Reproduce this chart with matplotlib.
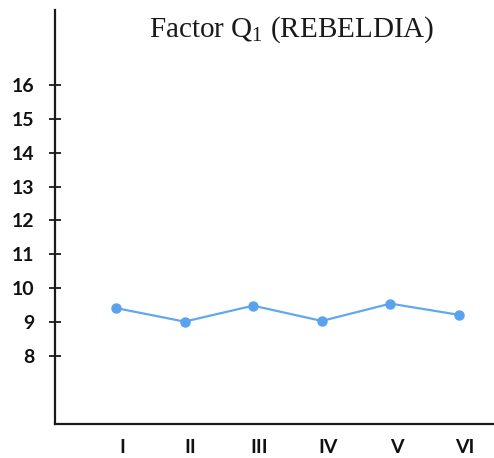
import matplotlib
matplotlib.use("Agg")
import matplotlib.pyplot as plt
import matplotlib.transforms as mtransforms

# data
stages = ["I", "II", "III", "IV", "V", "VI"]
scores = [9.42, 9.02, 9.49, 9.04, 9.55, 9.22]
yticks = [8, 9, 10, 11, 12, 13, 14, 15, 16]

fig = plt.figure(figsize=(4.94, 4.58), dpi=100)
ax = fig.add_axes([0.111, 0.074, 0.889, 0.904])

xpos = list(range(len(stages)))
ax.plot(xpos, scores, color="#62a8ee", lw=1.6, marker="o", ms=6.5,
        markeredgecolor="#5aa2ee", markerfacecolor="#5aa2ee")

ax.set_xlim(-0.89, 5.51)
ax.set_ylim(6.0, 18.2)

ax.set_yticks(yticks)
ax.set_yticklabels([str(t) for t in yticks], fontfamily="Lato",
                   fontweight="bold", fontsize=14, color="#111111")
ax.tick_params(axis="y", direction="inout", length=8, width=1.3, pad=11,
               color="#1a1a1a")

ax.set_xticks(xpos)
ax.set_xticklabels(stages, fontfamily="Lato", fontweight="bold",
                   fontsize=14, color="#111111")
ax.tick_params(axis="x", length=0, pad=11)
offset = mtransforms.ScaledTranslation(6 / 100, 0, fig.dpi_scale_trans)
for lab in ax.get_xticklabels():
    lab.set_transform(lab.get_transform() + offset)

for side in ["top", "right"]:
    ax.spines[side].set_visible(False)
for side in ["left", "bottom"]:
    ax.spines[side].set_linewidth(1.6)
    ax.spines[side].set_color("#1a1a1a")

plt.rcParams["mathtext.fontset"] = "custom"
plt.rcParams["mathtext.rm"] = "Liberation Serif"
fig.text(0.59, 0.935, r"Factor Q$\mathregular{_1}$ (REBELDIA)",
         fontfamily="Liberation Serif", fontsize=21, color="#1a1a1a",
         ha="center", va="center")

fig.savefig("out.png", dpi=100, facecolor="white")
